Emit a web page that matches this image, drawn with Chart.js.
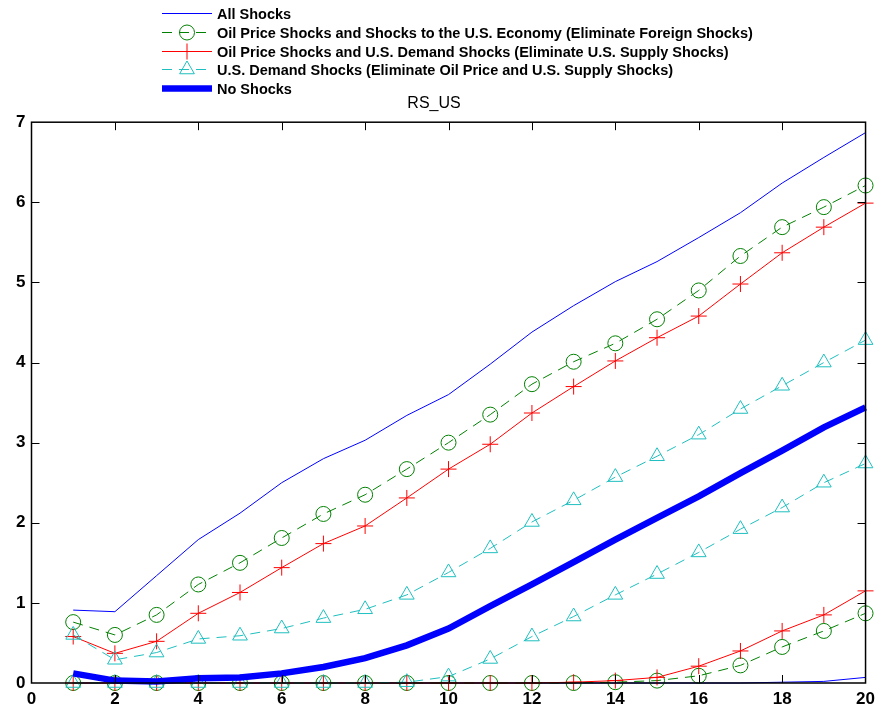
<!DOCTYPE html>
<html>
<head>
<meta charset="utf-8">
<title>RS_US</title>
<script src="https://cdn.jsdelivr.net/npm/chart.js@4.4.1/dist/chart.umd.min.js"></script>
<style>
  html, body { margin: 0; padding: 0; background: #fff; }
  #wrap { position: relative; width: 881px; height: 712px; }
</style>
</head>
<body>
<div id="wrap"><canvas id="chart" width="881" height="712"></canvas></div>
<script>
// horizon (periods)
const periods = [1, 2, 3, 4, 5, 6, 7, 8, 9, 10, 11, 12, 13, 14, 15, 16, 17, 18, 19, 20];

// upper / lower bands
const allShocksHi = [0.91, 0.89, 1.34, 1.79, 2.12, 2.50, 2.80, 3.03, 3.34, 3.60, 3.98, 4.38, 4.71, 5.01, 5.26, 5.56, 5.87, 6.24, 6.56, 6.87];
const allShocksLo = [0, 0, 0, 0, 0, 0, 0, 0, 0, 0, 0, 0, 0, 0, 0, 0, 0, 0.01, 0.02, 0.07];

const noForeignHi = [0.76, 0.60, 0.85, 1.23, 1.50, 1.81, 2.11, 2.35, 2.67, 3.00, 3.35, 3.73, 4.01, 4.24, 4.54, 4.90, 5.33, 5.69, 5.94, 6.21];
const noForeignLo = [0, 0, 0, 0, 0, 0, 0, 0, 0, 0, 0, 0, 0, 0.01, 0.03, 0.09, 0.22, 0.45, 0.65, 0.87];

const noSupplyHi = [0.58, 0.37, 0.52, 0.87, 1.13, 1.44, 1.74, 1.96, 2.31, 2.67, 2.98, 3.37, 3.70, 4.02, 4.31, 4.58, 4.98, 5.37, 5.69, 5.99];
const noSupplyLo = [0, 0, 0, 0, 0, 0, 0, 0, 0, 0, 0, 0, 0.01, 0.03, 0.07, 0.21, 0.40, 0.65, 0.85, 1.15];

const demandOnlyHi = [0.60, 0.29, 0.38, 0.55, 0.59, 0.68, 0.81, 0.92, 1.10, 1.38, 1.68, 2.01, 2.28, 2.57, 2.83, 3.10, 3.42, 3.71, 4.00, 4.28];
const demandOnlyLo = [0, 0, 0, 0, 0, 0, 0, 0, 0.01, 0.08, 0.30, 0.58, 0.83, 1.10, 1.36, 1.63, 1.92, 2.19, 2.50, 2.74];

const noShocks = [0.12, 0.03, 0.02, 0.06, 0.07, 0.12, 0.20, 0.31, 0.47, 0.68, 0.96, 1.23, 1.51, 1.79, 2.06, 2.33, 2.62, 2.90, 3.19, 3.44];

const legendLabels = [
  'All Shocks',
  'Oil Price Shocks and Shocks to the U.S. Economy (Eliminate Foreign Shocks)',
  'Oil Price Shocks and U.S. Demand Shocks (Eliminate U.S. Supply Shocks)',
  'U.S. Demand Shocks (Eliminate Oil Price and U.S. Supply Shocks)',
  'No Shocks'
];
const chartTitle = 'RS_US';
const xTicks = [0, 2, 4, 6, 8, 10, 12, 14, 16, 18, 20];
const yTicks = [0, 1, 2, 3, 4, 5, 6, 7];

const BLUE = '#0000ff', GREEN = '#008000', RED = '#ff0000', CYAN = '#1fbfbf';

const pts = arr => periods.map((p, i) => ({ x: p, y: arr[i] }));

// one style per legend entry
const styles = [
  { color: BLUE, width: 1, dash: [], marker: false, order: 4 },
  { color: GREEN, width: 1, dash: [10, 7], marker: 'circle', radius: 7.5, order: 3 },
  { color: RED, width: 1, dash: [], marker: 'cross', radius: 8, order: 2 },
  { color: CYAN, width: 1, dash: [10, 7], marker: 'triangle', radius: 8.5, order: 1 },
  { color: BLUE, width: 6.5, dash: [], marker: false, order: 0 }
];

function makeSet(arr, k, legend) {
  const s = styles[k];
  return {
    label: legendLabels[k],
    data: pts(arr),
    borderColor: s.color,
    backgroundColor: s.color,
    borderWidth: s.width,
    borderDash: s.dash,
    pointStyle: s.marker || 'circle',
    pointRadius: s.marker ? s.radius : 0,
    pointBorderWidth: 1,
    pointBorderColor: s.color,
    pointBackgroundColor: 'rgba(0,0,0,0)',
    tension: 0,
    clip: false,
    order: s.order,
    legendKey: legend ? k : -1
  };
}

const datasets = [
  makeSet(allShocksHi, 0, true),
  makeSet(allShocksLo, 0, false),
  makeSet(noForeignHi, 1, true),
  makeSet(noForeignLo, 1, false),
  makeSet(noSupplyHi, 2, true),
  makeSet(noSupplyLo, 2, false),
  makeSet(demandOnlyHi, 3, true),
  makeSet(demandOnlyLo, 3, false),
  makeSet(noShocks, 4, true)
];

function drawMarker(ctx, type, r, x, y, color) {
  ctx.save();
  ctx.setLineDash([]);
  ctx.strokeStyle = color;
  ctx.lineWidth = 1;
  ctx.beginPath();
  if (type === 'circle') {
    ctx.arc(x, y, r, 0, Math.PI * 2);
  } else if (type === 'cross') {
    ctx.moveTo(x - r, y); ctx.lineTo(x + r, y);
    ctx.moveTo(x, y - r); ctx.lineTo(x, y + r);
  } else if (type === 'triangle') {
    const h = Math.sin(Math.PI / 3) * r;
    ctx.moveTo(x, y - r);
    ctx.lineTo(x + h, y + r / 2);
    ctx.lineTo(x - h, y + r / 2);
    ctx.closePath();
  }
  ctx.stroke();
  ctx.restore();
}

// MATLAB-like box with inward ticks, plus the legend block on top
const frame = {
  id: 'frame',
  afterDatasetsDraw(chart) {
    const { ctx, chartArea: a, scales } = chart;
    ctx.save();
    ctx.strokeStyle = '#000';
    ctx.lineWidth = 1;
    ctx.beginPath();
    xTicks.slice(1, -1).forEach(v => {
      const px = Math.round(scales.x.getPixelForValue(v)) + 0.5;
      ctx.moveTo(px, a.bottom); ctx.lineTo(px, a.bottom - 8);
      ctx.moveTo(px, a.top); ctx.lineTo(px, a.top + 8);
    });
    yTicks.slice(1, -1).forEach(v => {
      const py = Math.round(scales.y.getPixelForValue(v)) + 0.5;
      ctx.moveTo(a.left, py); ctx.lineTo(a.left + 8, py);
      ctx.moveTo(a.right, py); ctx.lineTo(a.right - 8, py);
    });
    ctx.stroke();
    ctx.lineWidth = 1.5;
    ctx.strokeRect(a.left, a.top, a.right - a.left, a.bottom - a.top);
    ctx.restore();
  },
  afterDraw(chart) {
    const ctx = chart.ctx;
    ctx.save();
    ctx.font = 'bold 14.5px "Liberation Sans", Arial, sans-serif';
    ctx.textBaseline = 'middle';
    ctx.fillStyle = '#000';
    legendLabels.forEach((label, k) => {
      const s = styles[k];
      const y = Math.round(13 + k * 18.8) + 0.5;
      ctx.save();
      ctx.strokeStyle = s.color;
      ctx.lineWidth = s.width;
      ctx.setLineDash(s.dash);
      ctx.beginPath();
      ctx.moveTo(162, y); ctx.lineTo(212, y);
      ctx.stroke();
      ctx.restore();
      if (s.marker) drawMarker(ctx, s.marker, s.radius, 187, y, s.color);
      ctx.fillText(label, 217, y + 1);
    });
    ctx.restore();
  }
};

const tickFont = { family: '"Liberation Sans", Arial, sans-serif', size: 17, weight: 'bold' };

new Chart(document.getElementById('chart').getContext('2d'), {
  type: 'line',
  data: { datasets },
  options: {
    responsive: false,
    animation: false,
    events: [],
    layout: { padding: { top: 92, right: 13, left: 0, bottom: 0 } },
    plugins: {
      legend: { display: false },
      tooltip: { enabled: false },
      title: {
        display: true,
        text: chartTitle,
        color: '#000',
        font: { family: '"Liberation Sans", Arial, sans-serif', size: 16, weight: 'normal', lineHeight: 1.2 },
        padding: { top: 2, bottom: 9 }
      }
    },
    scales: {
      x: {
        type: 'linear',
        min: 0,
        max: 20,
        afterBuildTicks: s => { s.ticks = xTicks.map(v => ({ value: v })); },
        afterFit: s => { s.height = 29; },
        grid: { display: false, drawTicks: false },
        border: { display: false },
        ticks: { color: '#000', font: tickFont, padding: 6, maxRotation: 0, autoSkip: false }
      },
      y: {
        type: 'linear',
        min: 0,
        max: 7,
        afterBuildTicks: s => { s.ticks = yTicks.map(v => ({ value: v })); },
        afterFit: s => { s.width = 31.5; },
        grid: { display: false, drawTicks: false },
        border: { display: false },
        ticks: { color: '#000', font: tickFont, padding: 6, autoSkip: false }
      }
    }
  },
  plugins: [frame]
});
</script>
</body>
</html>
